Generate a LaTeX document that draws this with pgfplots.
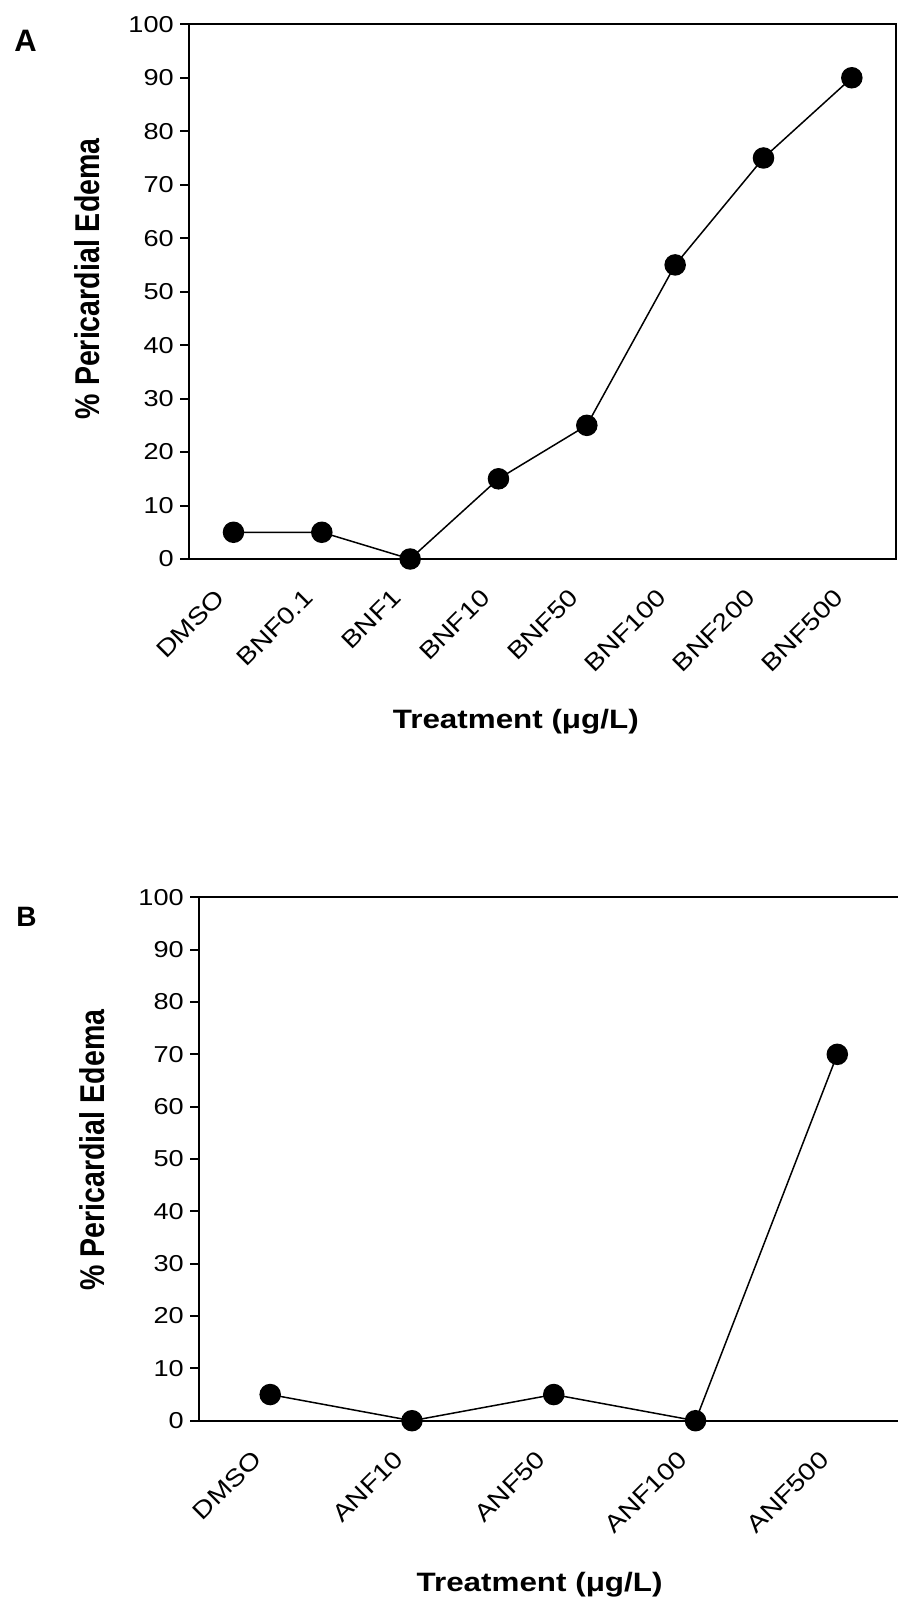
\documentclass[border=0pt]{standalone}
\usepackage{fontspec}
\setmainfont{Liberation Sans}[FakeStretch=1.18]
\newfontfamily\tickfont{Liberation Sans}[FakeStretch=1.18]
\newfontfamily\panelfont{Liberation Sans}
\newfontfamily\ylabfont{Liberation Sans}[FakeStretch=0.83]
\usepackage{pgfplots}
\pgfplotsset{compat=1.18}

% 1 px of the reference = 0.5pt
\pgfplotsset{
  edema/.style={
    scale only axis,
    axis line style={line width=1pt},
    every tick/.style={line width=1pt, black},
    tick align=outside,
    xtick pos=bottom, ytick pos=left,
    ymin=0, ymax=100, ytick={0,10,...,100},
    major tick length=4.6pt,
    xtick style={draw=none},
    minor tick length=4pt,
    /pgf/number format/assume math mode=true,
    yticklabel style={font=\tickfont\fontsize{11.5}{13}\selectfont, inner sep=0pt, anchor=east, xshift=-3pt},
    xticklabel style={font=\fontsize{12}{14}\selectfont, inner sep=0pt,
      xshift=-9.5pt, yshift=-9.5pt, rotate=45, anchor=north east},
    xlabel={Treatment (μg/L)},
    ylabel={\% Pericardial Edema},
    xlabel style={anchor=base, font=\bfseries\fontsize{13.3}{16}\selectfont},
    ylabel style={anchor=center, font=\ylabfont\bfseries\fontsize{17.2}{20}\selectfont},
    clip=false,
  },
  dots/.style={black, line width=0.75pt, mark=*, mark size=5pt, mark options={fill=black, solid}},
}

\begin{document}
\begin{tikzpicture}
\useasboundingbox (0,0) rectangle (449pt,-802pt);

\begin{axis}[edema,
  at={(94.65pt,-279.5pt)}, anchor=origin,
  width=353.35pt, height=267.35pt,
  xmin=0, xmax=8,
  xtick={0.5,1.5,...,7.5},
  minor xtick={0,1,...,8},
  xticklabels={DMSO,BNF0.1,BNF1,BNF10,BNF50,BNF100,BNF200,BNF500},
  xlabel style={at={(axis description cs:0.462,-0.3166)}},
  ylabel style={at={(axis description cs:-0.1443,0.524)}},
]
\addplot[dots] coordinates {(0.5,5) (1.5,5) (2.5,0) (3.5,15) (4.5,25) (5.5,55) (6.5,75) (7.5,90)};
\end{axis}

\begin{axis}[edema,
  at={(99.65pt,-710.35pt)}, anchor=origin,
  width=354.45pt, height=261.7pt,
  xmin=0, xmax=5,
  xtick={0.5,1.5,...,4.5},
  minor xtick={0,1,...,5},
  xticklabels={DMSO,ANF10,ANF50,ANF100,ANF500},
  xlabel style={at={(axis description cs:0.48,-0.327)}},
  ylabel style={at={(axis description cs:-0.1514,0.517)}},
]
\addplot[dots] coordinates {(0.5,5) (1.5,0) (2.5,5) (3.5,0) (4.5,70)};
\end{axis}

\node[anchor=base west, inner sep=0pt, font=\panelfont\bfseries\fontsize{15.5}{18}\selectfont] at (7pt,-26pt) {A};
\node[anchor=base west, inner sep=0pt, font=\panelfont\bfseries\fontsize{14}{17}\selectfont] at (8pt,-463.35pt) {B};
\end{tikzpicture}
\end{document}
